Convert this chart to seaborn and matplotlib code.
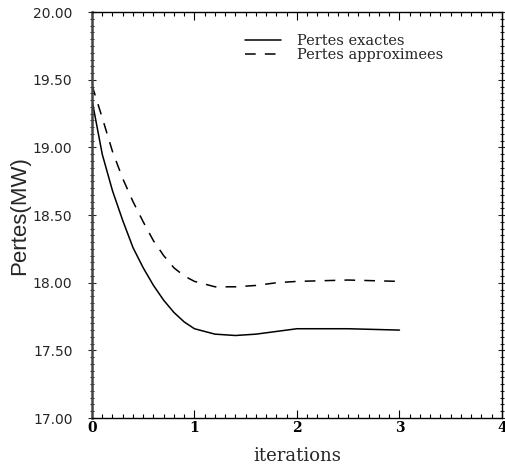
import matplotlib
matplotlib.use("Agg")
import matplotlib.pyplot as plt
import seaborn as sns
import pandas as pd
from matplotlib.ticker import MultipleLocator, FormatStrFormatter

# Loss values (MW) along the iteration axis
iterations = [0.0, 0.1, 0.2, 0.3, 0.4, 0.5, 0.6, 0.7, 0.8, 0.9, 1.0,
              1.2, 1.4, 1.6, 1.8, 2.0, 2.5, 3.0]
pertes_exactes = [19.35, 18.95, 18.68, 18.46, 18.26, 18.11, 17.98, 17.87, 17.78,
                  17.71, 17.66, 17.62, 17.61, 17.62, 17.64, 17.66, 17.66, 17.65]
pertes_approx = [19.46, 19.22, 18.97, 18.77, 18.60, 18.45, 18.31, 18.20, 18.11,
                 18.05, 18.01, 17.97, 17.97, 17.98, 18.00, 18.01, 18.02, 18.01]
series_names = ["Pertes exactes", "Pertes approximees"]

df = pd.concat([
    pd.DataFrame({"iterations": iterations, "pertes": pertes_exactes, "serie": series_names[0]}),
    pd.DataFrame({"iterations": iterations, "pertes": pertes_approx, "serie": series_names[1]}),
])

sns.set_style("ticks")
plt.rcParams["font.family"] = ["Liberation Sans", "DejaVu Sans"]
serif = ["DejaVu Serif", "Liberation Serif"]

fig = plt.figure(figsize=(5.06, 4.69), dpi=100)
ax = fig.add_axes([0.1818, 0.1087, 0.992 - 0.1818, 0.974 - 0.1087])

sns.lineplot(data=df, x="iterations", y="pertes", style="serie", color="black",
             dashes={series_names[0]: "", series_names[1]: (7, 6)},
             linewidth=1.1, ax=ax, legend=True)

ax.set_xlim(0, 4)
ax.set_ylim(17, 20)
ax.xaxis.set_major_locator(MultipleLocator(1))
ax.xaxis.set_minor_locator(MultipleLocator(0.1))
ax.yaxis.set_major_locator(MultipleLocator(0.5))
ax.yaxis.set_minor_locator(MultipleLocator(0.05))
ax.yaxis.set_major_formatter(FormatStrFormatter("%.2f"))

ax.tick_params(axis="x", which="both", direction="in", top=True, bottom=True,
               labelsize=10, pad=2, width=0.8, colors="black")
ax.tick_params(axis="x", which="major", length=6)
ax.tick_params(axis="x", which="minor", length=3)
ax.tick_params(axis="y", which="both", direction="inout", left=True, right=True,
               labelsize=10, pad=11, width=0.8)
ax.tick_params(axis="y", which="major", length=6)
ax.tick_params(axis="y", which="minor", length=3)
for lbl in ax.get_xticklabels():
    lbl.set_family(serif)
    lbl.set_fontweight("bold")
for lbl in ax.get_yticklabels():
    lbl.set_family(["DejaVu Sans"])

for side in ["left", "right", "top", "bottom"]:
    ax.spines[side].set_visible(True)
    ax.spines[side].set_color("black")
    ax.spines[side].set_linewidth(1.0)
ax.spines["left"].set_linewidth(1.8)
ax.spines["left"].set_color("#444444")

ax.set_xlabel("iterations", fontsize=13, family=serif, labelpad=9)
ax.set_ylabel("Pertes(MW)", fontsize=16, labelpad=2)

leg = ax.legend(loc="upper left", bbox_to_anchor=(0.373, 0.947), frameon=False,
                borderpad=0, borderaxespad=0,
                handlelength=2.5, handletextpad=1.1, labelspacing=0.05,
                prop={"family": serif, "size": 10.5})

fig.savefig("out.png", dpi=100)
